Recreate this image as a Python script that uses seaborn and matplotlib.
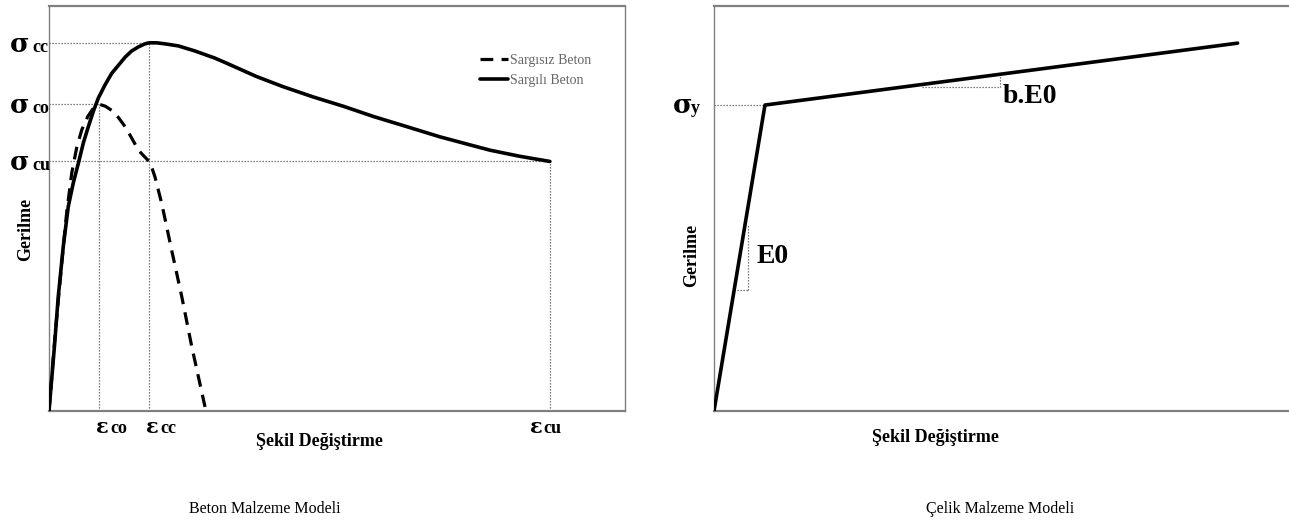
import matplotlib
matplotlib.use("Agg")
import matplotlib.pyplot as plt
import seaborn as sns

# ---- Concrete model (strain in permille, stress in MPa) ----
confined_strain = [0, 0.22, 0.37, 0.57, 0.77, 0.97, 1.17, 1.37, 1.57, 1.77, 1.97,
                   2.24, 2.50, 2.77, 3.04, 3.30, 3.57, 3.83, 4.00, 4.30, 4.63,
                   5.16, 5.83, 6.63, 7.10, 8.29, 9.36, 10.56, 11.75, 12.95,
                   14.29, 15.62, 17.61, 18.81, 20.0]
confined_stress = [0, 6.4, 11.2, 16.1, 20.0, 22.3, 24.2, 26.2, 27.8, 29.3, 30.6,
                   31.9, 33.0, 33.8, 34.6, 35.2, 35.6, 35.9, 36.0, 36.0, 35.9,
                   35.7, 35.2, 34.5, 34.0, 32.7, 31.7, 30.7, 29.8, 28.8,
                   27.8, 26.8, 25.5, 24.9, 24.4]
unconfined_strain = [0, 0.25, 0.51, 0.71, 0.91, 1.11, 1.31, 1.55, 1.77, 2.00,
                     2.25, 2.50, 2.77, 3.04, 3.30, 3.57, 3.80, 4.00, 4.12, 4.23,
                     4.50, 4.90, 5.30, 5.70, 6.23]
unconfined_stress = [0, 7.6, 14.5, 19.5, 23.3, 25.8, 27.5, 28.8, 29.6, 30.0,
                     29.8, 29.4, 28.7, 27.8, 26.7, 25.5, 24.9, 24.4, 23.7, 22.9,
                     20.3, 15.7, 11.2, 6.3, 0.4]
eps_co, eps_cc, eps_cu = 2.0, 4.0, 20.0
sig_co, sig_cc, sig_cu = 30.0, 36.0, 24.4
concrete_labels = ["Sargısız Beton", "Sargılı Beton"]

# ---- Steel model (bilinear) ----
steel_strain = [0, 2.0, 20.55]
steel_stress = [0, 420, 505]
sig_y = 420
e0_tick = (1.33, 166, 255, 0.90)        # x, bottom, top, left end of the run
be0_tick = (11.22, 444.7, 462.2, 8.16)  # x, bottom, top, left end of the run

sns.set_theme(style="white")
plt.rcParams["font.family"] = ["Liberation Serif", "DejaVu Serif"]
plt.rcParams["text.color"] = "black"

W, H = 1289, 531
fig = plt.figure(figsize=(W / 100, H / 100), dpi=100)


def frame(x0, x1, y0, y1):
    return [x0 / W, 1 - y1 / H, (x1 - x0) / W, (y1 - y0) / H]


ax1 = fig.add_axes(frame(49, 625, 6, 411))
ax2 = fig.add_axes(frame(714, 1300, 6, 411))

ref = dict(color="#555555", lw=0.9, ls=(0, (1, 1.4)), zorder=1)

# concrete curves
sns.lineplot(x=unconfined_strain, y=unconfined_stress, ax=ax1, sort=False,
             errorbar=None, color="black", lw=2.3, linestyle=(0, (4, 2.6)),
             label=concrete_labels[0], zorder=3)
sns.lineplot(x=confined_strain, y=confined_stress, ax=ax1, sort=False,
             errorbar=None, color="black", lw=2.6, label=concrete_labels[1],
             zorder=3)

# guide lines to the characteristic points
ax1.plot([0, eps_cc], [sig_cc, sig_cc], **ref)
ax1.plot([0, eps_co], [sig_co, sig_co], **ref)
ax1.plot([0, eps_cu], [sig_cu, sig_cu], **ref)
ax1.plot([eps_co, eps_co], [0, sig_co], **ref)
ax1.plot([eps_cc, eps_cc], [0, sig_cc], **ref)
ax1.plot([eps_cu, eps_cu], [0, sig_cu], **ref)

ax1.set_xlim(0, 23.0)
ax1.set_ylim(0, 39.6)

# steel curve
sns.lineplot(x=steel_strain, y=steel_stress, ax=ax2, sort=False,
             errorbar=None, color="black", lw=2.6, zorder=3)
ax2.plot([0, steel_strain[1]], [sig_y, sig_y], **ref)
x, lo, hi, left = e0_tick
ax2.plot([x, x], [lo, hi], **ref)
ax2.plot([left, x], [lo, lo], **ref)
x, lo, hi, left = be0_tick
ax2.plot([x, x], [lo, hi], **ref)
ax2.plot([left, x], [lo, lo], **ref)
ax2.text(1.69, 203, "E0", fontsize=20, fontweight="bold", ha="left",
         va="baseline")
ax2.text(11.34, 423, "b.E0", fontsize=20, fontweight="bold", ha="left",
         va="baseline")
ax2.set_xlim(0, 23.0)
ax2.set_ylim(0, 556)

for ax in (ax1, ax2):
    ax.set_xticks([])
    ax.set_yticks([])
    ax.set_xlabel("")
    ax.set_ylabel("")
    for side, sp in ax.spines.items():
        sp.set_visible(True)
        sp.set_color("#808080")
        sp.set_linewidth(1.0 if side in ("left", "right") else 1.6)


def symbol_label(ax, xy, coords, big, small, big_dx, small_dx, dy,
                 big_size, small_size=13):
    ax.annotate(big, xy=xy, xycoords=coords, xytext=(big_dx, dy),
                textcoords="offset pixels", ha="left", va="baseline",
                fontsize=big_size, fontweight="bold", family="DejaVu Serif",
                annotation_clip=False)
    ax.annotate(small, xy=xy, xycoords=coords, xytext=(small_dx, dy),
                textcoords="offset pixels", ha="left", va="baseline",
                fontsize=small_size, fontweight="bold", annotation_clip=False)


ycoords = ("axes fraction", "data")
xcoords = ("data", "axes fraction")
symbol_label(ax1, (0, sig_cc), ycoords, "σ", "cc", -39, -17, -9, 19)
symbol_label(ax1, (0, sig_co), ycoords, "σ", "co", -39, -17, -9, 19)
symbol_label(ax1, (0, sig_cu), ycoords, "σ", "cu", -39, -17, -9, 19)
symbol_label(ax1, (eps_co, 0), xcoords, "ε", "co", -3, 11, -22, 15)
symbol_label(ax1, (eps_cc, 0), xcoords, "ε", "cc", -3, 11, -22, 15)
symbol_label(ax1, (eps_cu, 0), xcoords, "ε", "cu", -20, -6, -22, 15)
symbol_label(ax2, (0, sig_y), ycoords, "σ", "y", -41, -23, -8, 19)

leg = ax1.legend(loc="upper left", bbox_to_anchor=((480 - 49) / 576, (411 - 54) / 405),
                 frameon=False, fontsize=10, handlelength=2.0, handletextpad=0.15,
                 labelspacing=0.5, borderpad=0, borderaxespad=0, labelcolor="#666666")

# axis titles and captions
fig.text(26 / W, 1 - 229 / H, "Gerilme", rotation=90, ha="center", va="center",
         fontsize=13, fontweight="bold")
fig.text(692 / W, 1 - 255 / H, "Gerilme", rotation=90, ha="center", va="center",
         fontsize=13, fontweight="bold")
fig.text(319 / W, 1 - 442 / H, "Şekil Değiştirme", ha="center", va="center",
         fontsize=13, fontweight="bold")
fig.text(935 / W, 1 - 437 / H, "Şekil Değiştirme", ha="center", va="center",
         fontsize=13, fontweight="bold")
fig.text(265 / W, 1 - 509 / H, "Beton Malzeme Modeli", ha="center", va="center",
         fontsize=11.5)
fig.text(1000 / W, 1 - 509 / H, "Çelik Malzeme Modeli", ha="center", va="center",
         fontsize=11.5)

fig.savefig("out.png", dpi=100, facecolor="white")
